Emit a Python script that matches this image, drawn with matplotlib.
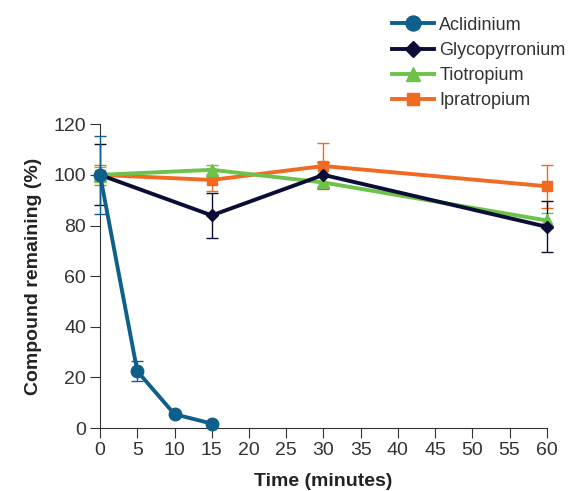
import matplotlib
matplotlib.use('Agg')
import matplotlib.pyplot as plt

plt.rcParams['font.family'] = ['Liberation Sans', 'DejaVu Sans']

# data
t_acl = [0, 5, 10, 15]
acl = [100, 22.5, 5.5, 1.8]
acl_err = [15.5, 4, 0, 0]

t_long = [0, 15, 30, 60]
gly = [100, 84, 100, 79.5]
gly_err = [12, 9, 5, 10]
tio = [100, 102, 97, 82]
tio_err = [3, 2, 2, 3]
ipr = [100, 98, 103.5, 95.5]
ipr_err = [4, 4.5, 9, 8.5]

names = ['Aclidinium', 'Glycopyrronium', 'Tiotropium', 'Ipratropium']
colors = ['#0f5f8c', '#0b0d36', '#6cc24a', '#f26a21']

fig = plt.figure(figsize=(5.75, 4.91), dpi=100)
ax = fig.add_axes([0.174, 0.128, 0.777, 0.619])

# drawn back to front: orange, green, navy, blue
series = [
    (3, t_long, ipr, ipr_err, 's', 7.5),
    (2, t_long, tio, tio_err, '^', 8.5),
    (1, t_long, gly, gly_err, 'D', 6.5),
    (0, t_acl, acl, acl_err, 'o', 9),
]
handles = {}
for i, x, y, e, m, ms in series:
    eb = ax.errorbar(x, y, yerr=e, color=colors[i], lw=2.8, marker=m, ms=ms,
                     elinewidth=1, capsize=4, capthick=1, ecolor=colors[i],
                     clip_on=False, zorder=3, label=names[i])
    handles[i] = eb[0]

ax.set_xlim(0, 60)
ax.set_ylim(0, 120)
ax.set_xticks(range(0, 61, 5))
ax.set_yticks(range(0, 121, 20))
ax.spines['top'].set_visible(False)
ax.spines['right'].set_visible(False)
ax.spines['left'].set_color('#333333')
ax.spines['bottom'].set_color('#333333')
ax.tick_params(labelsize=14, length=7, color='#333333', labelcolor='#333333', pad=3)
ax.set_xlabel('Time (minutes)', fontsize=14, fontweight='bold', color='#222222',
              labelpad=10)
ax.set_ylabel('Compound remaining (%)', fontsize=14, fontweight='bold', color='#222222',
              labelpad=8)

fig.legend([handles[i] for i in range(4)], names, loc='upper left',
           bbox_to_anchor=(0.654, 0.999), frameon=False, fontsize=13,
           handlelength=2.3, handletextpad=0.3, labelspacing=0.45,
           labelcolor='#333333', markerscale=1.2)

fig.savefig('out.png', dpi=100)
